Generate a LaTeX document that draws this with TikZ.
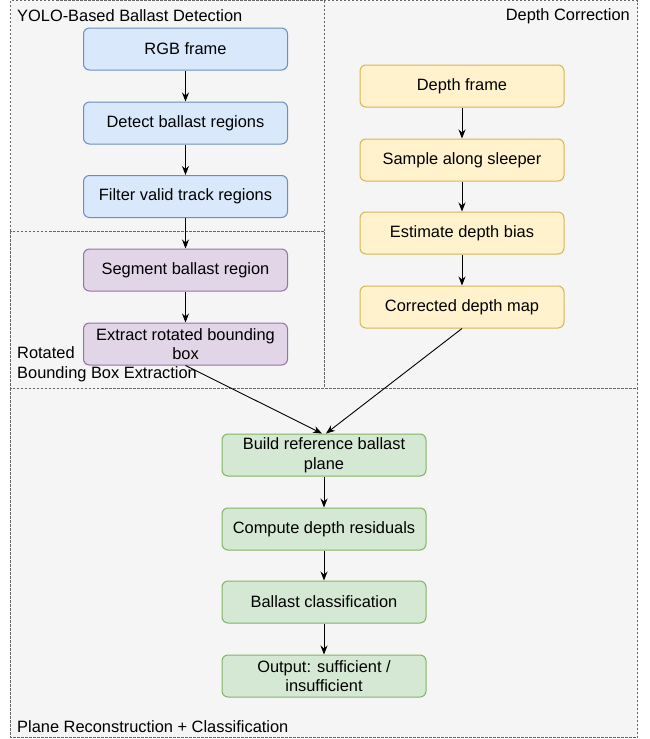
\documentclass[tikz,border=0pt]{standalone}
\usepackage{fontspec}
\setmainfont{Liberation Sans}
\usepackage{tikz}
\usetikzlibrary{positioning,arrows.meta}

\definecolor{grpfill}{RGB}{245,245,245}
\definecolor{grpline}{RGB}{102,102,102}
\definecolor{bluefill}{RGB}{218,232,252}
\definecolor{blueline}{RGB}{108,142,191}
\definecolor{yelfill}{RGB}{255,242,204}
\definecolor{yelline}{RGB}{214,182,86}
\definecolor{purfill}{RGB}{225,213,231}
\definecolor{purline}{RGB}{150,115,166}
\definecolor{grnfill}{RGB}{213,232,212}
\definecolor{grnline}{RGB}{130,179,102}

\tikzset{
  group/.style={draw=grpline, fill=grpfill, dashed, line width=0.7pt, dash pattern=on 2.5pt off 1.5pt},
  stepbox/.style={rounded corners=6pt, line width=1pt, minimum width=204pt, minimum height=42pt,
    align=center, inner sep=1pt, font=\fontsize{16.4}{19.7}\selectfont},
  bluebox/.style={stepbox, draw=blueline, fill=bluefill},
  yelbox/.style={stepbox, draw=yelline, fill=yelfill},
  purbox/.style={stepbox, draw=purline, fill=purfill},
  grnbox/.style={stepbox, draw=grnline, fill=grnfill},
  grptext/.style={font=\fontsize{16.4}{19.7}\selectfont, inner sep=0pt},
  flow/.style={-{Stealth[length=9pt,width=7pt]}, line width=0.9pt}
}

\begin{document}
\begin{tikzpicture}[x=1pt,y=1pt,yscale=-1,xscale=1]
\useasboundingbox (0,0) rectangle (649,739);

%Shape: Containers
\draw [group] (10.5,0.5) rectangle (324,231);
\draw [group] (324,0.5) rectangle (637.5,388);
\draw [group] (10.5,231) rectangle (324,388);
\draw [group] (10.5,388) rectangle (637.5,737.5);

% Text Node
\node [grptext, anchor=west] (ttlyolo) at (17,16) {YOLO-Based Ballast Detection};
% Text Node
\node [grptext, anchor=east] (ttldepth) at (630,16) {Depth Correction};
% Text Node
\node [grptext, anchor=west, align=left] (ttlrot) at (17,364) {Rotated\\Bounding Box Extraction};
% Text Node
\node [grptext, anchor=west] (ttlplane) at (17,727) {Plane Reconstruction + Classification};

%Shape: YOLO steps
\node [bluebox] (rgb) at (185.5,49) {RGB frame};
\node [bluebox] (detect) at (185.5,123) {Detect ballast regions};
\node [bluebox] (filter) at (185.5,196.5) {Filter valid track regions};

%Shape: Rotated box steps
\node [purbox] (segment) at (185.5,270) {Segment ballast region};
\node [purbox] (extract) at (185.5,344) {Extract rotated bounding\\box};

%Shape: Depth steps
\node [yelbox] (dframe) at (462,86) {Depth frame};
\node [yelbox] (sample) at (462,160) {Sample along sleeper};
\node [yelbox] (bias) at (462,233) {Estimate depth bias};
\node [yelbox] (dmap) at (462,307) {Corrected depth map};

%Shape: Plane steps
\node [grnbox] (plane) at (324,455) {Build reference ballast\\plane};
\node [grnbox] (resid) at (324,529) {Compute depth residuals};
\node [grnbox] (classif) at (324,602) {Ballast classification};
\node [grnbox] (output) at (324,676) {Output: sufficient /\\insufficient};

% Connectors
\draw [flow] (rgb) -- (detect);
\draw [flow] (detect) -- (filter);
\draw [flow] (filter) -- (segment);
\draw [flow] (segment) -- (extract);
\draw [flow] (dframe) -- (sample);
\draw [flow] (sample) -- (bias);
\draw [flow] (bias) -- (dmap);
\draw [flow] (extract.south) -- ([xshift=-2pt]plane.north);
\draw [flow] (dmap.south) -- ([xshift=2pt]plane.north);
\draw [flow] (plane) -- (resid);
\draw [flow] (resid) -- (classif);
\draw [flow] (classif) -- (output);

\end{tikzpicture}
\end{document}
